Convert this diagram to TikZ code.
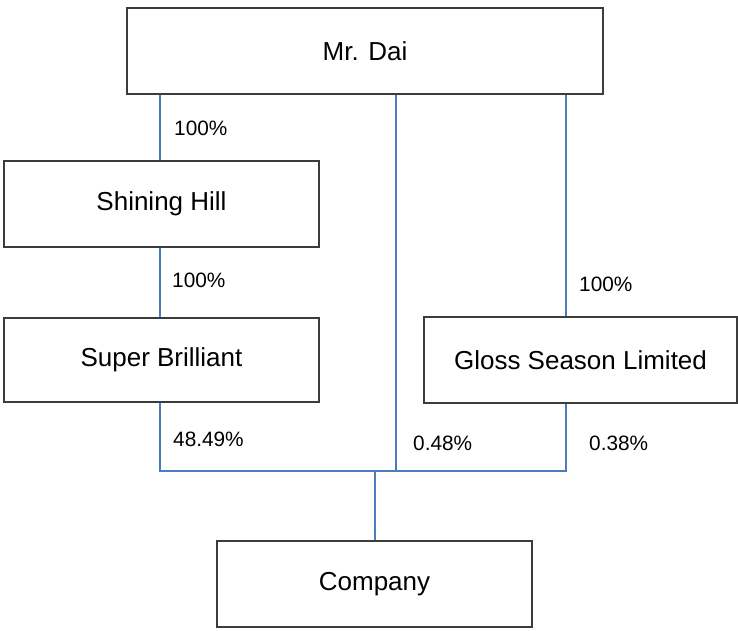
\documentclass[tikz,border=0pt]{standalone}
\usepackage{fontspec}
\setmainfont{Liberation Sans}
\definecolor{boxline}{HTML}{3C3C3C}
\definecolor{linkblue}{HTML}{4A7DBA}
\begin{document}
\begin{tikzpicture}[x=1pt,y=-1pt,
  entity/.style={draw=boxline,line width=1.2pt,rectangle,inner sep=0pt,
    minimum width=315pt,minimum height=86pt,font=\fontsize{26}{30}\selectfont},
  pct/.style={anchor=west,inner sep=0pt,font=\fontsize{20.8}{24}\selectfont},
  link/.style={draw=linkblue,line width=1.3pt}]
\useasboundingbox (0,0) rectangle (738,630);
\node[entity,minimum width=476pt] (dai) at (365,51) {Mr. Dai};
\node[entity] (shining) at (161.5,204) {Shining Hill};
\node[entity,minimum height=84pt] (super) at (161.5,360) {Super Brilliant};
\node[entity,minimum width=313pt] (gloss) at (580.5,360) {Gloss Season Limited};
\node[entity] (company) at (374.5,584) {Company};
\coordinate (busL) at (160,471);
\coordinate (busM) at (396,471);
\coordinate (busC) at (375,471);
\coordinate (busR) at (566,471);
\draw[link] (dai.south -| busL) -- (shining.north -| busL);
\draw[link] (shining.south -| busL) -- (super.north -| busL);
\draw[link] (dai.south -| busR) -- (gloss.north -| busR);
\draw[link] (super.south -| busL) -- (busL) -- (busR) -- (gloss.south -| busR);
\draw[link] (dai.south -| busM) -- (busM);
\draw[link] (busC) -- (company.north -| busC);
\node[pct] (p1) at (174,128) {100\%};
\node[pct] (p2) at (172,280) {100\%};
\node[pct] (p3) at (579,284) {100\%};
\node[pct] (p4) at (173,439) {48.49\%};
\node[pct] (p5) at (413,443) {0.48\%};
\node[pct] (p6) at (589,443) {0.38\%};
\end{tikzpicture}
\end{document}
